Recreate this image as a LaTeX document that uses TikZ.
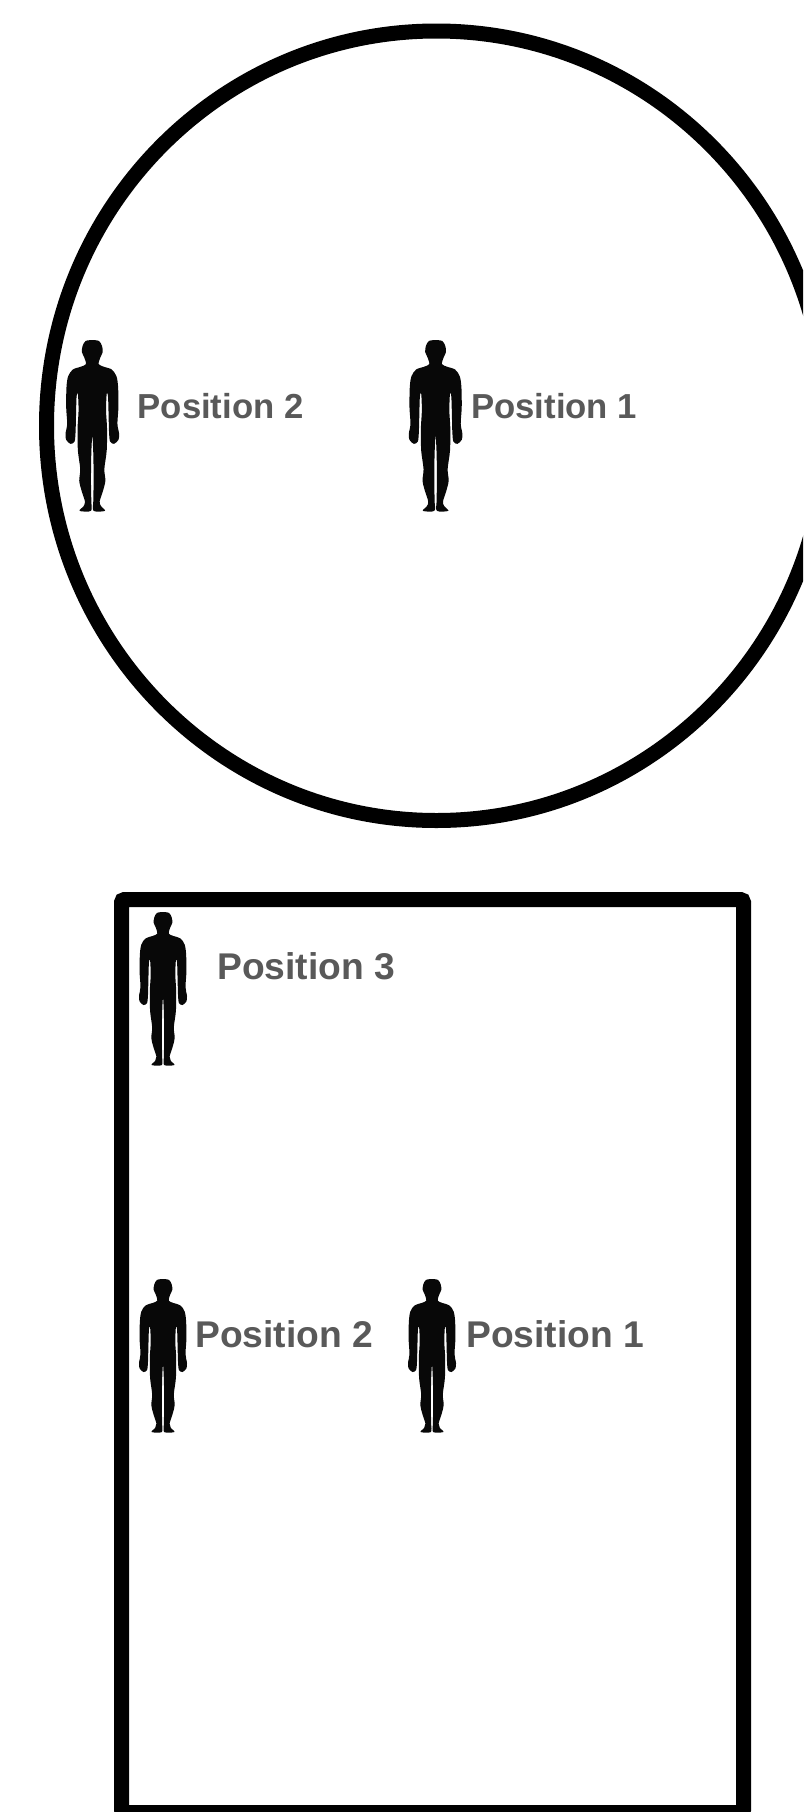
\documentclass[tikz,border=0pt]{standalone}
\usepackage{fontspec}
\setmainfont{Liberation Sans}
\definecolor{labelgrey}{HTML}{595959}
\tikzset{
  x=1pt,y=-1pt,
  wall/.style={draw=black,line width=15pt,fill=white},
  lbl/.style={anchor=base west,inner sep=0pt,text=labelgrey,font=\bfseries\fontsize{#1}{#1}\selectfont},
  person/.pic={
    \fill[black!97] plot[smooth,tension=0.5] coordinates {
      (0,0) (20,3) (29,18) (31,36) (24,52) (19,72) (35,80) (58,88) (72,108) (77,140)
      (78,200) (75,250) (80,280) (78,298) (65,310) (53,303) (50,275) (49,240) (47,170) (43,160)
      (41,210) (44,265) (43,330) (36,385) (39,420) (32,450) (22,482) (26,496) (38,510)
      (4,510) (3,480) (4,420) (3,340) (0,285)
      (-3,340) (-4,420) (-3,480) (-4,510)
      (-38,510) (-26,496) (-22,482) (-32,450) (-39,420) (-36,385) (-43,330) (-44,265) (-41,210)
      (-43,160) (-47,170) (-49,240) (-50,275) (-53,303) (-65,310) (-78,298) (-80,280) (-75,250)
      (-78,200) (-77,140) (-72,108) (-58,88) (-35,80) (-19,72) (-24,52) (-31,36) (-29,18) (-20,3) (0,0)
    } -- cycle;
  }
}
\begin{document}
\begin{tikzpicture}
\useasboundingbox (0,0) rectangle (803,1812);
\begin{scope}
\clip (0,0) rectangle (803,1812);
\draw[wall] (436.4,425.75) ellipse [x radius=389.9, y radius=394.75];
\draw[wall,rounded corners=3pt] (121.5,899.5) rectangle (743.5,1812.5);
\end{scope}
\pic at (92.3,340) [scale=0.335] {person};
\pic at (435.6,340) [scale=0.335] {person};
\pic at (163,912) [scale=0.3] {person};
\pic at (163,1279) [scale=0.3] {person};
\pic at (432,1279) [scale=0.3] {person};
\node[lbl=34.7] (c2) at (137.5,418) {Position 2};
\node[lbl=34.7] (c1) at (471,418) {Position 1};
\node[lbl=37.2] (r3) at (217,979) {Position 3};
\node[lbl=37.2] (r2) at (195,1347) {Position 2};
\node[lbl=37.2] (r1) at (466,1347) {Position 1};
\end{tikzpicture}
\end{document}
